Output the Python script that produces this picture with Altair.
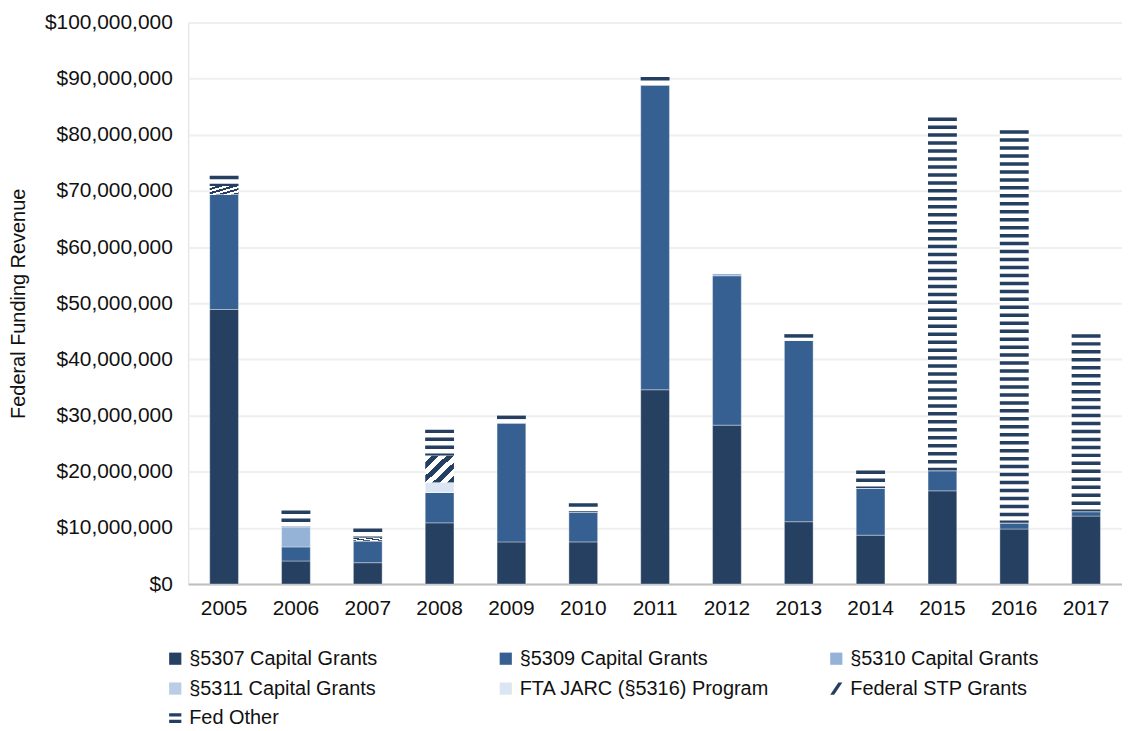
import altair as alt
import pandas as pd

years = ["2005", "2006", "2007", "2008", "2009", "2010", "2011",
         "2012", "2013", "2014", "2015", "2016", "2017"]
series = ["§5307 Capital Grants", "§5309 Capital Grants", "§5310 Capital Grants",
          "§5311 Capital Grants", "FTA JARC (§5316) Program",
          "Federal STP Grants", "Fed Other"]

# values in millions of dollars
s5307 = [48.9, 4.1, 3.8, 10.9, 7.5, 7.5, 34.6, 28.3, 11.1, 8.7, 16.6, 9.8, 12.1]
s5309 = [20.5, 2.5, 3.9, 5.4, 21.2, 5.3, 54.3, 26.6, 32.3, 8.4, 3.6, 1.1, 0.8]
s5310 = [0.0, 3.6, 0.0, 0.0, 0.0, 0.0, 0.0, 0.4, 0.0, 0.0, 0.0, 0.0, 0.0]
s5311 = [0.0, 0.0, 0.0, 0.0, 0.0, 0.0, 0.0, 0.0, 0.0, 0.0, 0.0, 0.0, 0.0]
jarc = [0.0, 0.0, 0.0, 1.8, 0.0, 0.0, 0.0, 0.0, 0.0, 0.0, 0.0, 0.0, 0.0]
stp = [1.5, 0.0, 0.6, 4.8, 0.0, 0.0, 0.0, 0.0, 0.0, 0.0, 0.0, 0.0, 0.0]
fed_other = [1.8, 2.9, 1.6, 4.6, 1.3, 1.6, 1.4, 0.0, 1.1, 3.1, 62.9, 69.9, 31.6]

colors = ["#264061", "#376092", "#95B3D7", "#B9CDE5", "#DCE6F2", "#243F60", "#243F60"]
symbols = [
    "M-1,-1H1V1H-1Z", "M-1,-1H1V1H-1Z", "M-1,-1H1V1H-1Z",
    "M-1,-1H1V1H-1Z", "M-1,-1H1V1H-1Z",
    "M0.35,-1H1L-0.35,1H-1Z",
    "M-1,-0.85H1V-0.3H-1Z M-1,0.2H1V0.75H-1Z",
]

all_vals = [s5307, s5309, s5310, s5311, jarc, stp, fed_other]
rows = []
for i, (name, vals) in enumerate(zip(series, all_vals)):
    for yr, v in zip(years, vals):
        rows.append({"year": yr, "series": name, "order": i, "value": v * 1e6})
df = pd.DataFrame(rows)

NAVY = "#243F60"
FONT = "Liberation Sans"

# diagonal hatch for STP segments
stops = []
n_per = 4
for k in range(n_per):
    a = k / n_per
    b = a + 0.5 / n_per
    c = (k + 1) / n_per
    stops += [{"offset": a, "color": "white"}, {"offset": b, "color": "white"},
              {"offset": b, "color": NAVY}, {"offset": c, "color": NAVY}]
hatch = alt.Gradient(gradient="linear", x1=0, y1=0, x2=1, y2=1, stops=stops)

base = alt.Chart(df).transform_stack(
    stack="value", groupby=["year"], as_=["v0", "v1"],
    sort=[alt.SortField("order", order="ascending")]
)

x_enc = alt.X("year:O", title=None, sort=years,
              scale=alt.Scale(paddingInner=0.6, paddingOuter=0.3),
              axis=alt.Axis(labelAngle=0, labelFontSize=21, labelPadding=14,
                            ticks=False, domainColor="#BFBFBF", domainWidth=2,
                            labelColor="#111111", labelFont=FONT))
YTITLE = "Federal Funding Revenue"
y_axis = alt.Axis(format="$,.0f", tickCount=10, labelFontSize=21, labelPadding=16,
                  ticks=False, domain=False, gridColor="#EFEFEF", gridWidth=2,
                  titleFontSize=20, titleFontWeight="normal", titlePadding=16,
                  labelColor="#111111", titleColor="#111111",
                  labelFont=FONT, titleFont=FONT)
y_scale = alt.Scale(domain=[0, 1e8], nice=False)

color_scale = alt.Scale(domain=series, range=colors)
shape_scale = alt.Scale(domain=series, range=symbols)

legend = alt.Legend(title=None, orient="none", legendX=-23, legendY=629,
                    direction="horizontal",
                    columns=3, gridAlign="all", columnPadding=57, rowPadding=10,
                    symbolSize=150, symbolOpacity=1, symbolStrokeWidth=0,
                    labelFontSize=20, labelFont=FONT, labelColor="#111111",
                    labelOffset=4, padding=0, labelLimit=400)

solid = base.transform_filter(
    alt.FieldOneOfPredicate(field="series", oneOf=series[:5])
).mark_bar(stroke="#FFFFFF", strokeWidth=0.6, strokeOpacity=0.6).encode(
    x=x_enc,
    y=alt.Y("v0:Q", scale=y_scale, axis=y_axis, title=YTITLE),
    y2="v1:Q",
    color=alt.Color("series:N", scale=color_scale, legend=legend),
)

stp_layer = base.transform_filter(
    alt.datum.series == "Federal STP Grants"
).mark_bar(fill=hatch).encode(
    x=x_enc,
    y=alt.Y("v0:Q", scale=y_scale, title=YTITLE),
    y2="v1:Q",
)

other_bg = base.transform_filter(
    alt.datum.series == "Fed Other"
).mark_bar(fill="#FFFFFF").encode(
    x=x_enc,
    y=alt.Y("v0:Q", scale=y_scale, title=YTITLE),
    y2="v1:Q",
)

other_lines = base.transform_filter(
    alt.datum.series == "Fed Other"
).mark_rule(strokeWidth=29, strokeDash=[3.5, 4.5], color=NAVY, strokeCap="butt").encode(
    x=x_enc,
    y=alt.Y("v1:Q", scale=y_scale, title=YTITLE),
    y2="v0:Q",
)

legend_pts = base.mark_point(filled=True, opacity=0).encode(
    x=x_enc,
    y=alt.Y("v1:Q", scale=y_scale, title=YTITLE),
    color=alt.Color("series:N", scale=color_scale, legend=legend),
    shape=alt.Shape("series:N", scale=shape_scale, legend=legend),
)

chart = alt.layer(solid, stp_layer, other_bg, other_lines, legend_pts).properties(
    width=938, height=564,
    padding={"left": 0, "top": 2, "right": 0, "bottom": 0},
).configure_view(stroke=None).configure(font=FONT)

chart.save("out.html", embed_options={"renderer": "svg", "actions": False})
